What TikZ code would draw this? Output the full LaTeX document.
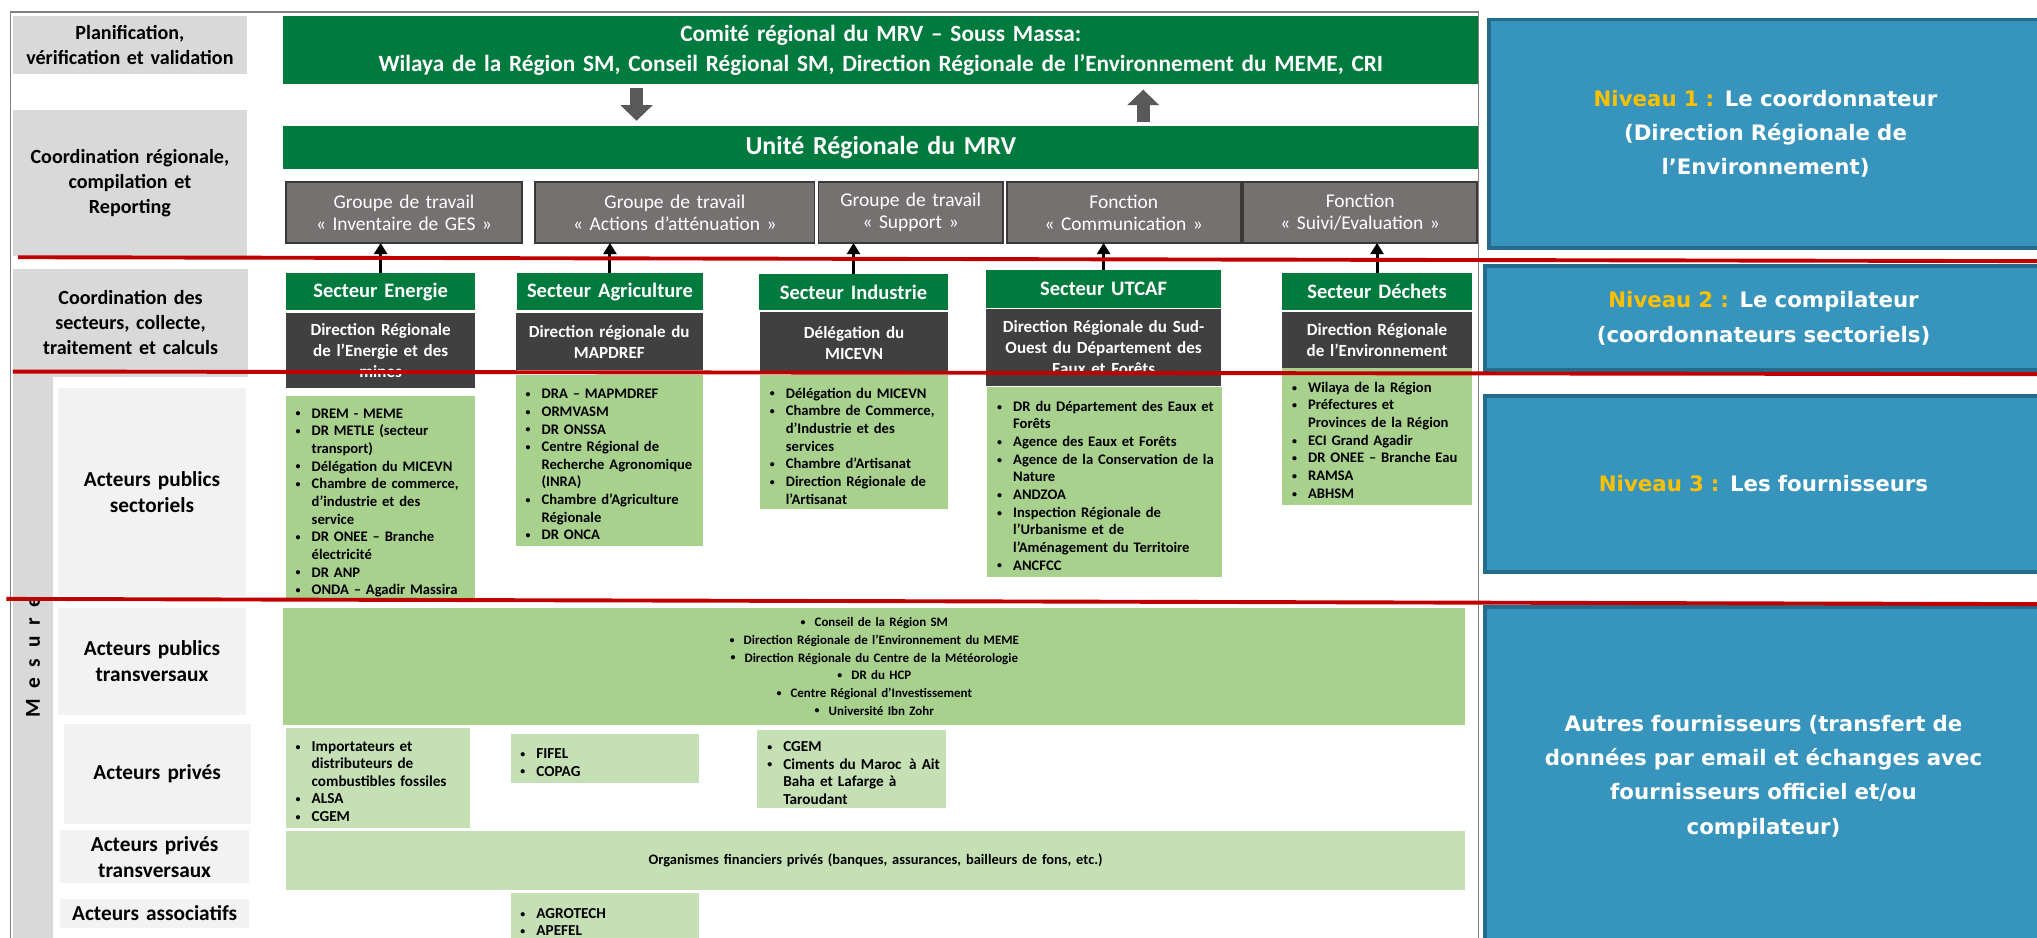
\documentclass[tikz,border=0pt]{standalone}
\usepackage{fontspec}
\setmainfont{Carlito}
\newfontfamily\verdana{DejaVu Sans}
\usetikzlibrary{arrows.meta}

\definecolor{dkgreen}{RGB}{0,122,61}
\definecolor{rowgray}{RGB}{118,113,113}
\definecolor{rowedge}{RGB}{59,56,56}
\definecolor{dkgray}{RGB}{64,64,64}
\definecolor{midgreen}{RGB}{169,209,142}
\definecolor{ltgreen}{RGB}{197,224,180}
\definecolor{lblgray}{RGB}{217,217,217}
\definecolor{lblpale}{RGB}{242,242,242}
\definecolor{nivblue}{RGB}{55,148,188}
\definecolor{nivedge}{RGB}{36,107,140}
\definecolor{sepred}{RGB}{192,0,0}
\definecolor{gold}{RGB}{255,192,0}
\definecolor{blockgray}{RGB}{89,89,89}
\definecolor{cadregray}{RGB}{128,128,128}

% small bullet, list item with hanging bullet
\newcommand{\puce}{\raisebox{0.8pt}{\fontsize{6.5}{6.5}\selectfont\textbullet}}
\newcommand{\li}[1]{\par\hangindent=12pt\hangafter=1\noindent\hbox to 12pt{\hspace{1.5pt}\puce\hfil}#1\par}

\tikzset{wh/.style 2 args={anchor=north west, outer sep=0pt,
  minimum width=#1*0.03cm, minimum height=#2*0.03cm, text width=#1*0.03cm-10pt}}
\tikzstyle{boxpad}=[inner xsep=5pt, inner ysep=2pt]
\tikzstyle{lbl}=[boxpad, fill=lblgray, align=center, font=\bfseries\fontsize{13.2}{16.5}\selectfont]
\tikzstyle{sublbl}=[lbl, fill=lblpale, font=\bfseries\fontsize{14}{17}\selectfont]
\tikzstyle{comitebox}=[boxpad, fill=dkgreen, text=white, align=center, font=\bfseries\fontsize{15.3}{19.5}\selectfont]
\tikzstyle{unitebox}=[comitebox, font=\bfseries\fontsize{17}{19}\selectfont]
\tikzstyle{grp}=[boxpad, fill=rowgray, draw=rowedge, line width=0.04cm, text=white, align=center, font=\fontsize{12.8}{14.5}\selectfont]
\tikzstyle{secthead}=[boxpad, fill=dkgreen, text=white, align=center, font=\bfseries\fontsize{13.5}{14}\selectfont]
\tikzstyle{dirbox}=[boxpad, fill=dkgray, text=white, align=center, font=\bfseries\fontsize{11.2}{13.7}\selectfont]
\tikzstyle{liste}=[boxpad, fill=midgreen, align=left, font=\bfseries\fontsize{9.6}{11.6}\selectfont]
\tikzstyle{privliste}=[liste, fill=ltgreen, font=\bfseries\fontsize{10}{11.5}\selectfont]
\tikzstyle{transv}=[boxpad, fill=midgreen, align=center, font=\bfseries\fontsize{8.5}{11.6}\selectfont]
\tikzstyle{nivbox}=[boxpad, fill=nivblue, draw=nivedge, line width=0.09cm, text=white, align=center, font=\verdana\bfseries\fontsize{14}{22.5}\selectfont]
\tikzstyle{mesurecol}=[fill=lblgray, rotate=90, inner sep=0pt, font=\bfseries\fontsize{14}{14}\selectfont]
\tikzstyle{cadre}=[draw=cadregray, line width=0.04cm]
\tikzstyle{blockarrow}=[draw=blockgray, line width=0.3cm, -{Triangle[width=0.72cm,length=0.36cm]}, shorten <=0.09cm, shorten >=0.12cm]
\tikzstyle{uparrow}=[draw=black, line width=0.07cm, -{Triangle[width=0.3cm,length=0.26cm]}]
\tikzstyle{sepline}=[draw=sepred, line width=0.09cm]

\begin{document}
\begin{tikzpicture}[x=0.03cm, y=-0.03cm]
\useasboundingbox (0,0) rectangle (1568,722);
\clip (0,0) rectangle (1568,722);

%frame
\draw[cadre] (8,722) -- (8,9) -- (1138,9) -- (1138,722);

%left labels
\node[lbl, wh={180}{45}] (plan) at (10,12) {Planification,\\vérification~et~validation};
\node[lbl, wh={180}{112}] (coordreg) at (10,85) {Coordination régionale,\\compilation et\\Reporting};
\node[lbl, wh={181}{83}] (coordsect) at (10,207) {Coordination des\\secteurs, collecte,\\traitement et calculs};
\node[mesurecol, minimum width=432*0.03cm, minimum height=31*0.03cm] (mesure) at (25.5,506)
  {M\hspace{7pt}e\hspace{7pt}s\hspace{7pt}u\hspace{7pt}r\hspace{7pt}e};
\node[sublbl, wh={144}{160}] (apubsect) at (45,299) {Acteurs publics\\sectoriels\par\vspace{22pt}};
\node[sublbl, wh={144}{82}] (apubtrans) at (45,468) {Acteurs publics\\transversaux\par\vspace{15pt}};
\node[sublbl, wh={144}{77}] (aprive) at (49,557) {Acteurs privés};
\node[sublbl, wh={146}{41}] (aprivtrans) at (46,639) {Acteurs privés\\transversaux};
\node[sublbl, wh={146}{22}] (aassoc) at (46,692) {Acteurs associatifs};

%regional level
\node[comitebox, wh={920}{53}] (comite) at (218,12)
  {Comité régional du MRV – Souss Massa:\\Wilaya de la Région SM, Conseil Régional SM, Direction Régionale de l’Environnement du MEME, CRI};
\node[unitebox, wh={920}{33}] (unite) at (218,97) {Unité Régionale du MRV};
\coordinate (dn) at (490,0);
\coordinate (up) at (880,0);
\draw[blockarrow] (dn |- comite.south) -- (dn |- unite.north);
\draw[blockarrow] (up |- unite.north) -- (up |- comite.south);

\node[grp, wh={182}{47}] (gges) at (220,140) {Groupe de travail\\« Inventaire de GES »};
\node[grp, wh={215}{47}] (gatt) at (412,140) {Groupe de travail\\« Actions d’atténuation »};
\node[grp, wh={142}{47}] (gsup) at (630,140) {Groupe de travail\\« Support »};
\node[grp, wh={180}{47}] (fcom) at (775,140) {Fonction\\« Communication »};
\node[grp, wh={180}{47}] (fsuivi) at (957,140) {Fonction\\« Suivi/Evaluation »};

%sectors
\node[secthead, wh={146}{29}] (shen) at (220,210) {Secteur Energie};
\node[dirbox, wh={146}{58}] (dren) at (220,241) {Direction Régionale\\de l’Energie et des\\mines};
\node[liste, wh={146}{158}] (len) at (220,305) {\li{DREM - MEME}\li{DR METLE (secteur\newline transport)}\li{Délégation~du~MICEVN}\li{Chambre~de~commerce,\newline d’industrie et des\newline service}\li{DR ONEE – Branche\newline électricité}\li{DR ANP}\li{ONDA~–~Agadir~Massira}};

\node[secthead, wh={143}{29}] (shagr) at (398,210) {Secteur Agriculture};
\node[dirbox, wh={144}{44}] (dragr) at (397,241) {Direction régionale du\\MAPDREF};
\node[liste, wh={144}{131}] (lagr) at (397,289) {\li{DRA – MAPMDREF}\li{ORMVASM}\li{DR ONSSA}\li{Centre Régional de\newline Recherche~Agronomique\newline (INRA)}\li{Chambre~d’Agriculture\newline Régionale}\li{DR ONCA}};

\node[secthead, wh={146}{28}] (shind) at (584,211) {Secteur Industrie};
\node[dirbox, wh={145}{48}] (drind) at (585,240) {Délégation du\\MICEVN};
\node[liste, wh={145}{103}] (lind) at (585,289) {\li{Délégation~du~MICEVN}\li{Chambre~de~Commerce,\newline d’Industrie et des\newline services}\li{Chambre d’Artisanat}\li{Direction~Régionale~de\newline l’Artisanat}};

\node[secthead, wh={181}{29}] (shutc) at (759,208) {Secteur UTCAF};
\node[dirbox, wh={181}{59}] (drutc) at (759,238) {Direction Régionale du Sud-\\Ouest du Département des\\Eaux et Forêts};
\node[liste, wh={181}{146}] (lutc) at (760,298) {\li{DR~du~Département~des~Eaux~et\newline Forêts}\li{Agence des Eaux et Forêts}\li{Agence~de~la~Conservation~de~la\newline Nature}\li{ANDZOA}\li{Inspection Régionale de\newline l’Urbanisme et de\newline l’Aménagement~du~Territoire}\li{ANCFCC}};

\node[secthead, wh={146}{29}] (shdec) at (987,210) {Secteur Déchets};
\node[dirbox, wh={146}{43}] (drdec) at (987,240) {Direction Régionale\\de l’Environnement};
\node[liste, wh={146}{106}] (ldec) at (987,283) {\li{Wilaya de la Région}\li{Préfectures et\newline Provinces~de~la~Région}\li{ECI Grand Agadir}\li{DR~ONEE~–~Branche~Eau}\li{RAMSA}\li{ABHSM}};

\foreach \s/\g in {shen/gges, shagr/gatt, shind/gsup, shutc/fcom, shdec/fsuivi}
  \draw[uparrow] (\s.north) -- (\s.north |- \g.south);

%other suppliers
\node[transv, wh={910}{90}] (ltrans) at (218,468) {\puce\hspace{6pt}Conseil de la Région SM\\\puce\hspace{6pt}Direction Régionale de l’Environnement du MEME\\\puce\hspace{6pt}Direction Régionale du Centre de la Météorologie\\\puce\hspace{6pt}DR du HCP\\\puce\hspace{6pt}Centre Régional d’Investissement\\\puce\hspace{6pt}Université Ibn Zohr};
\node[privliste, wh={142}{77}] (lpr1) at (220,560) {\li{Importateurs et\newline distributeurs de\newline combustibles~fossiles}\li{ALSA}\li{CGEM}};
\node[privliste, wh={145}{38}] (lpr2) at (393,565) {\li{FIFEL}\li{COPAG}};
\node[privliste, wh={145}{60}] (lpr3) at (583,562) {\li{CGEM}\li{Ciments~du~Maroc~\,à~Ait\newline Baha et Lafarge à\newline Taroudant}};
\node[transv, fill=ltgreen, font=\bfseries\fontsize{9.5}{11.6}\selectfont, wh={908}{45}] (lprtrans) at (220,640) {Organismes financiers privés (banques, assurances, bailleurs de fons, etc.)};
\node[privliste, wh={145}{40}] (lassoc) at (393,687) {\li{AGROTECH}\li{APEFEL}};

%levels
\node[nivbox, wh={426}{176}] (niv1) at (1146,15) {\textcolor{gold}{Niveau 1 :} Le coordonnateur\\(Direction Régionale de\\l’Environnement)};
\node[nivbox, wh={429}{80}] (niv2) at (1143,205) {\textcolor{gold}{Niveau 2 :} Le compilateur\\(coordonnateurs sectoriels)};
\node[nivbox, wh={429}{135}] (niv3) at (1143,305) {\textcolor{gold}{Niveau 3 :} Les fournisseurs};
\node[nivbox, wh={429}{262}] (autres) at (1143,467) {Autres fournisseurs (transfert de\\données par email et échanges avec\\fournisseurs officiel et/ou\\compilateur)};

%separators
\draw[sepline] (14,198) -- (1568,201);
\draw[sepline] (10,286) -- (1568,288);
\draw[sepline] (5,461) -- (1568,465);
\end{tikzpicture}
\end{document}
